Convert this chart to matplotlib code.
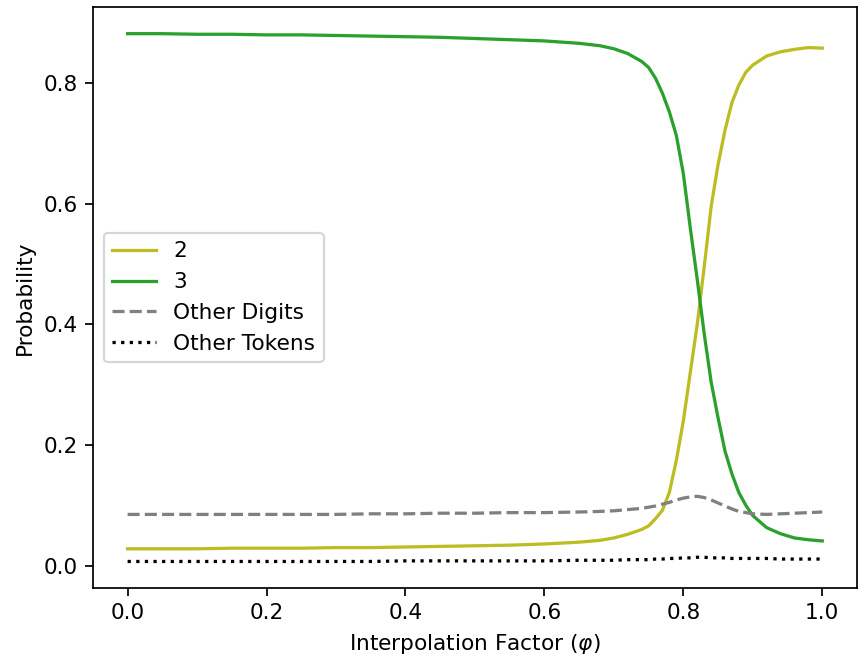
import numpy as np
import matplotlib
matplotlib.use("Agg")
import matplotlib.pyplot as plt

# interpolation factor (denser where the curves switch)
phi = [0.0, 0.05, 0.1, 0.15, 0.2, 0.25, 0.3, 0.35, 0.4, 0.45, 0.5, 0.55, 0.6, 0.65,
       0.68, 0.7, 0.72, 0.74, 0.75, 0.76, 0.77, 0.78, 0.79, 0.8, 0.81, 0.82, 0.83,
       0.84, 0.85, 0.86, 0.87, 0.88, 0.89, 0.9, 0.92, 0.94, 0.96, 0.98, 1.0]

p_two = [0.028, 0.028, 0.028, 0.029, 0.029, 0.029, 0.030, 0.030, 0.031, 0.032, 0.033,
         0.034, 0.036, 0.039, 0.042, 0.046, 0.052, 0.060, 0.066, 0.078, 0.092, 0.122,
         0.175, 0.240, 0.320, 0.400, 0.495, 0.595, 0.665, 0.722, 0.768, 0.797, 0.818,
         0.830, 0.845, 0.852, 0.856, 0.859, 0.858]

p_three = [0.882, 0.882, 0.881, 0.881, 0.880, 0.880, 0.879, 0.878, 0.877, 0.876, 0.874,
           0.872, 0.870, 0.866, 0.862, 0.857, 0.849, 0.836, 0.826, 0.808, 0.783, 0.752,
           0.713, 0.650, 0.560, 0.475, 0.385, 0.305, 0.245, 0.190, 0.152, 0.121, 0.100,
           0.083, 0.063, 0.053, 0.046, 0.043, 0.041]

p_digits = [0.085, 0.085, 0.085, 0.085, 0.085, 0.085, 0.085, 0.086, 0.086, 0.087, 0.087,
            0.088, 0.088, 0.089, 0.090, 0.091, 0.093, 0.095, 0.097, 0.099, 0.102, 0.105,
            0.109, 0.112, 0.114, 0.115, 0.113, 0.109, 0.104, 0.099, 0.094, 0.090, 0.088,
            0.086, 0.085, 0.086, 0.087, 0.088, 0.089]

p_tokens = [0.007, 0.007, 0.007, 0.007, 0.007, 0.007, 0.007, 0.007, 0.008, 0.008, 0.008,
            0.008, 0.008, 0.009, 0.009, 0.009, 0.010, 0.010, 0.010, 0.011, 0.011, 0.012,
            0.012, 0.013, 0.013, 0.014, 0.014, 0.013, 0.013, 0.013, 0.012, 0.012, 0.012,
            0.012, 0.012, 0.011, 0.011, 0.011, 0.011]

DPI = 156
fig, ax = plt.subplots(figsize=(860 / DPI, 662 / DPI), dpi=DPI)
fig.subplots_adjust(left=0.108, right=0.9965, bottom=0.112, top=0.989)

ax.plot(phi, p_two, color="tab:olive", label="2")
ax.plot(phi, p_three, color="tab:green", label="3")
ax.plot(phi, p_digits, color="gray", linestyle="--", label="Other Digits")
ax.plot(phi, p_tokens, color="black", linestyle=":", label="Other Tokens")

ax.set_xlabel(r"Interpolation Factor ($\varphi$)")
ax.set_ylabel("Probability")
ax.legend(loc="center left")

fig.savefig("out.png", dpi=DPI)
